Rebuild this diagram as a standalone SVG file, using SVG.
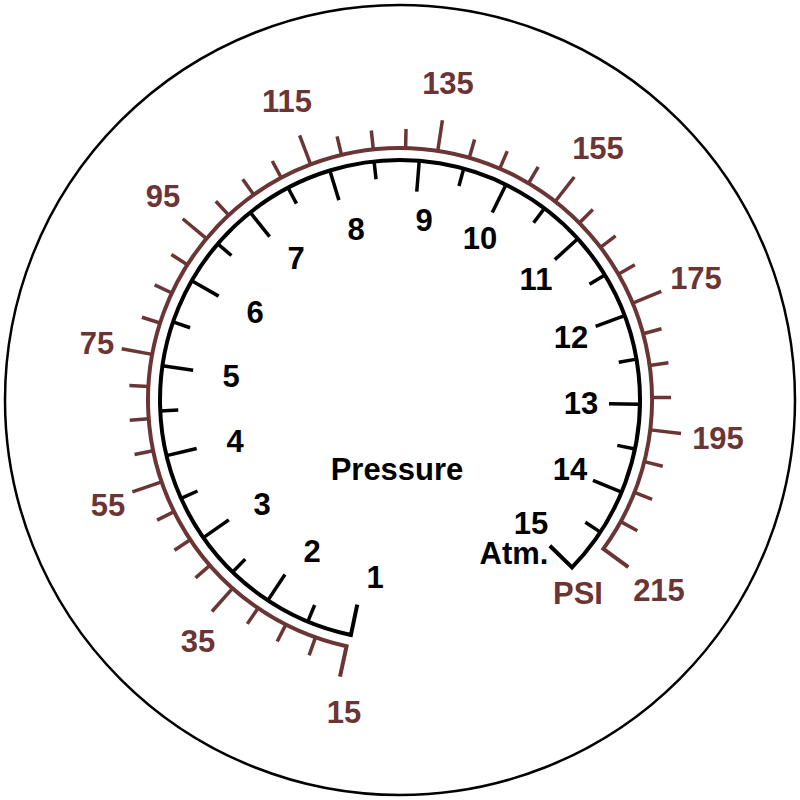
<svg xmlns="http://www.w3.org/2000/svg" xmlns:xlink="http://www.w3.org/1999/xlink" width="800" height="800" viewBox="0 0 800 800">
<style>
.blk{stroke:#000;stroke-width:3.5;fill:none}
.brn{stroke:#6b3535;stroke-width:3.5;fill:none}
.arcb{stroke:#000;stroke-width:4;fill:none;stroke-linejoin:miter}
.arcr{stroke:#6b3535;stroke-width:4;fill:none;stroke-linejoin:miter}
text{font-family:"Liberation Sans",Arial,sans-serif;font-weight:bold;font-size:31px;text-anchor:middle}
.tb{fill:#000}
.tr{fill:#6b3535}
</style>
<defs>
<line id="bM" class="blk" x1="400" y1="160" x2="400" y2="191"/>
<line id="bm" class="blk" x1="400" y1="160" x2="400" y2="178"/>
<line id="rL" class="brn" x1="400" y1="148" x2="400" y2="117"/>
<line id="rS" class="brn" x1="400" y1="148" x2="400" y2="129"/>
</defs>
<rect width="800" height="800" fill="#fff"/>
<circle cx="400" cy="400" r="395" fill="none" stroke="#000" stroke-width="2.5"/>
<g id="atm-scale">
<path class="arcb" d="M357.26,604.59 L350.92,634.94 A240,240 0 1 1 572.06,567.33 L549.83,545.71"/>
<use href="#bM" transform="rotate(-146.6 400 400)"/>
<use href="#bM" transform="rotate(-125.0 400 400)"/>
<use href="#bM" transform="rotate(-103.4 400 400)"/>
<use href="#bM" transform="rotate(-81.8 400 400)"/>
<use href="#bM" transform="rotate(-60.2 400 400)"/>
<use href="#bM" transform="rotate(-38.6 400 400)"/>
<use href="#bM" transform="rotate(-17.0 400 400)"/>
<use href="#bM" transform="rotate(4.6 400 400)"/>
<use href="#bM" transform="rotate(26.2 400 400)"/>
<use href="#bM" transform="rotate(47.8 400 400)"/>
<use href="#bM" transform="rotate(69.4 400 400)"/>
<use href="#bM" transform="rotate(91.0 400 400)"/>
<use href="#bM" transform="rotate(112.6 400 400)"/>
<use href="#bm" transform="rotate(-157.4 400 400)"/>
<use href="#bm" transform="rotate(-135.8 400 400)"/>
<use href="#bm" transform="rotate(-114.2 400 400)"/>
<use href="#bm" transform="rotate(-92.6 400 400)"/>
<use href="#bm" transform="rotate(-71.0 400 400)"/>
<use href="#bm" transform="rotate(-49.4 400 400)"/>
<use href="#bm" transform="rotate(-27.8 400 400)"/>
<use href="#bm" transform="rotate(-6.2 400 400)"/>
<use href="#bm" transform="rotate(15.4 400 400)"/>
<use href="#bm" transform="rotate(37.0 400 400)"/>
<use href="#bm" transform="rotate(58.6 400 400)"/>
<use href="#bm" transform="rotate(80.2 400 400)"/>
<use href="#bm" transform="rotate(101.8 400 400)"/>
<use href="#bm" transform="rotate(123.4 400 400)"/>
<text class="tb" x="375" y="588">1</text>
<text class="tb" x="312" y="562">2</text>
<text class="tb" x="262" y="515">3</text>
<text class="tb" x="235" y="452">4</text>
<text class="tb" x="231" y="387">5</text>
<text class="tb" x="255" y="323">6</text>
<text class="tb" x="296" y="269">7</text>
<text class="tb" x="356" y="240">8</text>
<text class="tb" x="424" y="231">9</text>
<text class="tb" x="480" y="249">10</text>
<text class="tb" x="536" y="290">11</text>
<text class="tb" x="571" y="348">12</text>
<text class="tb" x="581" y="414">13</text>
<text class="tb" x="570" y="480">14</text>
<text class="tb" x="531" y="534">15</text>
<text class="tb" x="514" y="564">Atm.</text>
</g>
<g id="psi-scale">
<path class="arcr" d="M339.98,676.56 L346.55,646.26 A252,252 0 1 1 603.34,548.85 L628.36,567.16"/>
<use href="#rS" transform="rotate(-160.404 400 400)"/>
<use href="#rS" transform="rotate(-153.055 400 400)"/>
<use href="#rS" transform="rotate(-145.706 400 400)"/>
<use href="#rL" transform="rotate(-138.357 400 400)"/>
<use href="#rS" transform="rotate(-131.008 400 400)"/>
<use href="#rS" transform="rotate(-123.659 400 400)"/>
<use href="#rS" transform="rotate(-116.310 400 400)"/>
<use href="#rL" transform="rotate(-108.962 400 400)"/>
<use href="#rS" transform="rotate(-101.613 400 400)"/>
<use href="#rS" transform="rotate(-94.264 400 400)"/>
<use href="#rS" transform="rotate(-86.915 400 400)"/>
<use href="#rL" transform="rotate(-79.566 400 400)"/>
<use href="#rS" transform="rotate(-72.217 400 400)"/>
<use href="#rS" transform="rotate(-64.868 400 400)"/>
<use href="#rS" transform="rotate(-57.519 400 400)"/>
<use href="#rL" transform="rotate(-50.170 400 400)"/>
<use href="#rS" transform="rotate(-42.821 400 400)"/>
<use href="#rS" transform="rotate(-35.472 400 400)"/>
<use href="#rS" transform="rotate(-28.123 400 400)"/>
<use href="#rL" transform="rotate(-20.775 400 400)"/>
<use href="#rS" transform="rotate(-13.426 400 400)"/>
<use href="#rS" transform="rotate(-6.077 400 400)"/>
<use href="#rS" transform="rotate(1.272 400 400)"/>
<use href="#rL" transform="rotate(8.621 400 400)"/>
<use href="#rS" transform="rotate(15.970 400 400)"/>
<use href="#rS" transform="rotate(23.319 400 400)"/>
<use href="#rS" transform="rotate(30.668 400 400)"/>
<use href="#rL" transform="rotate(38.016 400 400)"/>
<use href="#rS" transform="rotate(45.365 400 400)"/>
<use href="#rS" transform="rotate(52.714 400 400)"/>
<use href="#rS" transform="rotate(60.063 400 400)"/>
<use href="#rL" transform="rotate(67.412 400 400)"/>
<use href="#rS" transform="rotate(74.761 400 400)"/>
<use href="#rS" transform="rotate(82.110 400 400)"/>
<use href="#rS" transform="rotate(89.459 400 400)"/>
<use href="#rL" transform="rotate(96.807 400 400)"/>
<use href="#rS" transform="rotate(104.156 400 400)"/>
<use href="#rS" transform="rotate(111.505 400 400)"/>
<use href="#rS" transform="rotate(118.854 400 400)"/>
<text class="tr" x="344" y="723">15</text>
<text class="tr" x="198" y="652">35</text>
<text class="tr" x="108" y="516">55</text>
<text class="tr" x="97" y="354">75</text>
<text class="tr" x="163" y="207">95</text>
<text class="tr" x="287" y="112">115</text>
<text class="tr" x="448" y="94">135</text>
<text class="tr" x="598" y="159">155</text>
<text class="tr" x="696" y="289">175</text>
<text class="tr" x="718" y="449">195</text>
<text class="tr" x="659" y="601">215</text>
<text class="tr" x="578" y="604">PSI</text>
</g>
<text class="tb" x="397" y="480">Pressure</text>
</svg>
